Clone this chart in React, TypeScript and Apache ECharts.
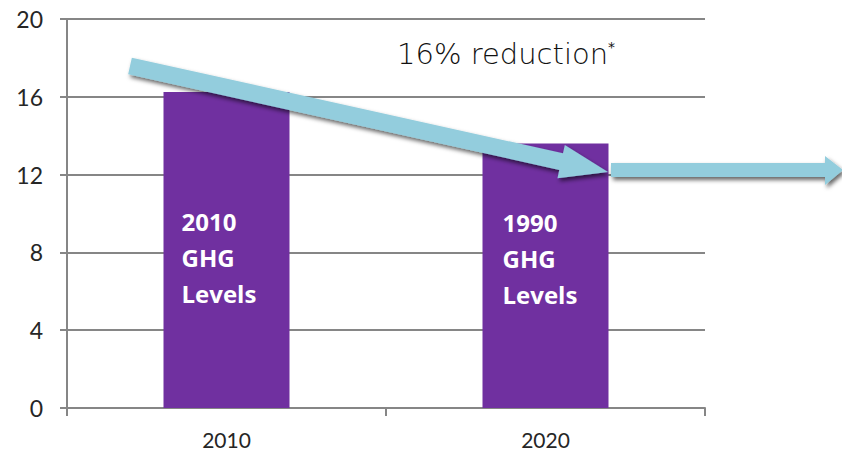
import React, { useEffect, useRef } from "react";
import * as echarts from "echarts";

const categories = ["2010", "2020"];
const values = [16.25, 13.6];
const barLabels = ["2010\nGHG\nLevels", "1990\nGHG\nLevels"];
const yTicks = { min: 0, max: 20, interval: 4 };
const annotation = "16% reduction";

const ARROW = "#93CDDD";

function arrowPoints(sx: number, sy: number, tx: number, ty: number, w: number, hl: number, hw: number) {
  const dx = tx - sx, dy = ty - sy;
  const L = Math.hypot(dx, dy);
  const ux = dx / L, uy = dy / L;
  const nx = -uy, ny = ux;
  const bx = tx - hl * ux, by = ty - hl * uy;
  return [
    [sx - w * nx, sy - w * ny],
    [bx - w * nx, by - w * ny],
    [bx - hw * nx, by - hw * ny],
    [tx, ty],
    [bx + hw * nx, by + hw * ny],
    [bx + w * nx, by + w * ny],
    [sx + w * nx, sy + w * ny],
  ];
}

export default function App() {
  const ref = useRef<HTMLDivElement>(null);
  useEffect(() => {
    const chart = echarts.init(ref.current!, undefined, { renderer: "svg" });
    const labelOffsets = [[18, 112], [20, 61]];
    const shadow = {
      shadowColor: "rgba(0,0,0,0.6)",
      shadowBlur: 4,
      shadowOffsetX: 2,
      shadowOffsetY: 3,
    };
    chart.setOption({
      animation: false,
      backgroundColor: "#ffffff",
      grid: { left: 67, right: 137, top: 19, bottom: 45 },
      xAxis: {
        type: "category",
        data: categories,
        axisLine: { lineStyle: { color: "#868686", width: 2 } },
        axisTick: { show: true, length: 8, lineStyle: { color: "#868686", width: 2 } },
        axisLabel: {
          margin: 21,
          fontFamily: "Lato, sans-serif",
          fontSize: 21,
          color: "#262626",
        },
      },
      yAxis: {
        type: "value",
        min: yTicks.min,
        max: yTicks.max,
        interval: yTicks.interval,
        axisLine: { show: true, lineStyle: { color: "#868686", width: 2 } },
        axisTick: { show: true, length: 7, lineStyle: { color: "#868686", width: 2 } },
        splitLine: { lineStyle: { color: "#868686", width: 2 } },
        axisLabel: {
          margin: 24,
          fontFamily: "Lato, sans-serif",
          fontSize: 23,
          color: "#262626",
        },
      },
      series: [
        {
          type: "bar",
          barWidth: 126,
          itemStyle: { color: "#7030A0" },
          data: values.map((v, i) => ({
            value: v,
            label: {
              show: true,
              formatter: barLabels[i],
              position: labelOffsets[i],
              color: "#ffffff",
              fontWeight: "bold",
              fontFamily: "Open Sans, Lato, sans-serif",
              fontSize: 24,
              lineHeight: 36,
              align: "left",
              verticalAlign: "top",
            },
          })),
        },
      ],
      graphic: [
        {
          type: "polygon",
          shape: { points: arrowPoints(130, 66, 608, 172, 8.5, 48, 17) },
          style: { fill: ARROW, ...shadow },
          z: 100,
        },
        {
          type: "polygon",
          shape: {
            points: [
              [611, 163],
              [825, 163],
              [825, 156],
              [843, 170],
              [825, 185],
              [825, 177],
              [611, 177],
            ],
          },
          style: { fill: ARROW, ...shadow },
          z: 100,
        },
        {
          type: "text",
          x: 397,
          y: 54,
          style: {
            text: annotation + "{s|*}",
            fill: "#111111",
            fontFamily: "DejaVu Sans, sans-serif",
            fontWeight: 200,
            fontSize: 29,
            verticalAlign: "middle",
            rich: {
              s: { fontSize: 14, verticalAlign: "top", padding: [0, 0, 14, 0], fontFamily: "DejaVu Sans", fill: "#111111" },
            },
          },
          z: 100,
        },
      ],
    });
    return () => chart.dispose();
  }, []);
  return <div ref={ref} style={{ position: "absolute", left: 0, top: 0, width: 842, height: 453 }} />;
}
